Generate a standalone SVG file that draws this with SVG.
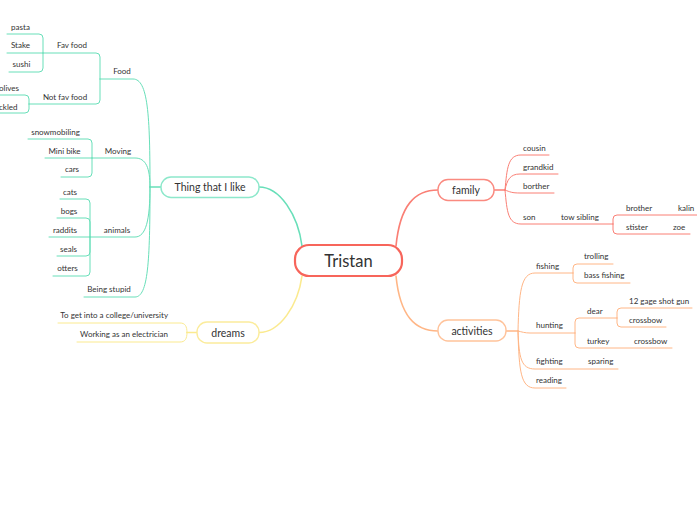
<svg xmlns="http://www.w3.org/2000/svg" width="697" height="520" viewBox="0 0 697 520">
<style>
text{font-family:Lato,"Liberation Sans",sans-serif;fill:#333;}
.s{font-size:8px;}
.m{font-size:10.5px;text-anchor:middle;}
.c{text-anchor:middle;}
.e{text-anchor:end;}
.ln{fill:none;stroke-linecap:round;}
.g{stroke:#68DFB9;}
.r{stroke:#FA7F75;}
.o{stroke:#FFB686;}
.y{stroke:#FBEA8F;}
.t1{stroke-width:1;}
.t2{stroke-width:1.6;}
</style>
<rect width="697" height="520" fill="#fff"/>
<g id="connectors">
  <!-- main -->
  <path class="ln g t2" d="M259,187 C280,187 298,215 302,246"/>
  <path class="ln r t2" d="M396,246 C400,205 415,190 438,190"/>
  <path class="ln o t2" d="M396,276 C400,316 415,331 438,331"/>
  <path class="ln y t2" d="M259,332.5 C280,332.5 298,305 302,276"/>
  <!-- Thing that I like trunk -->
  <path class="ln g t2" d="M150,187 L161,187"/>
  <path class="ln g t1" d="M150,187 C150,115 148,79 133,79 L100,79"/>
  <path class="ln g t1" d="M150,187 C150,168 146,158 135,158 L92,158"/>
  <path class="ln g t1" d="M150,187 C150,220 146,237 135,237 L90,237"/>
  <path class="ln g t1" d="M150,187 C150,262 148,297 135,297 L84,297"/>
  <!-- Food -->
  <path class="ln g t1" d="M100,79 L100,57 Q100,53 96,53 L43,53"/>
  <path class="ln g t1" d="M100,79 L100,100 Q100,104 96,104 L29,104"/>
  <path class="ln g t1" d="M43,53 L43,38 Q43,34 39,34 L7,34"/>
  <path class="ln g t1" d="M43,53 L7,53"/>
  <path class="ln g t1" d="M43,53 L43,68 Q43,72 39,72 L9,72"/>
  <path class="ln g t1" d="M29,104 L29,99 Q29,95 25,95 L-2,95"/>
  <path class="ln g t1" d="M29,104 L29,109 Q29,113 25,113 L-2,113"/>
  <!-- Moving -->
  <path class="ln g t1" d="M92,158 L92,143 Q92,139 88,139 L28,139"/>
  <path class="ln g t1" d="M92,158 L45,158"/>
  <path class="ln g t1" d="M92,158 L92,173 Q92,177 88,177 L61,177"/>
  <!-- animals -->
  <path class="ln g t1" d="M90,237 L90,203 Q90,199 86,199 L60,199"/>
  <path class="ln g t1" d="M90,237 L90,222 Q90,218 86,218 L57,218"/>
  <path class="ln g t1" d="M90,237 L49,237"/>
  <path class="ln g t1" d="M90,237 L90,252 Q90,256 86,256 L57,256"/>
  <path class="ln g t1" d="M90,237 L90,272 Q90,276 86,276 L53,276"/>
  <!-- family -->
  <path class="ln r t2" d="M494,190 L505,190"/>
  <path class="ln r t1" d="M505,190 C507,168 508,155 521,155 L549,155"/>
  <path class="ln r t1" d="M505,190 C507,180 510,174 520,174 L558,174"/>
  <path class="ln r t1" d="M505,190 C510,192 512,193 520,193 L554,193"/>
  <path class="ln r t1" d="M505,190 C507,212 508,224 521,224 L613,224"/>
  <path class="ln r t1" d="M613,224 L613,219 Q613,215 617,215 L699,215"/>
  <path class="ln r t1" d="M613,224 L613,230 Q613,234 617,234 L690,234"/>
  <!-- activities -->
  <path class="ln o t2" d="M506,331 L518,331"/>
  <path class="ln o t1" d="M518,331 C519,292 521,273 535,273 L573,273"/>
  <path class="ln o t1" d="M518,331 C522,332 525,333 530,333 L575,333"/>
  <path class="ln o t1" d="M518,331 C519,358 521,369 535,369 L618,369"/>
  <path class="ln o t1" d="M518,331 C519,372 521,388 535,388 L566,388"/>
  <path class="ln o t1" d="M573,273 L573,268 Q573,264 577,264 L613,264"/>
  <path class="ln o t1" d="M573,273 L573,279 Q573,283 577,283 L630,283"/>
  <path class="ln o t1" d="M575,333 L575,322 Q575,318 579,318 L617,318"/>
  <path class="ln o t1" d="M575,333 L575,344 Q575,348 579,348 L672,348"/>
  <path class="ln o t1" d="M617,318 L617,312 Q617,308 621,308 L692,308"/>
  <path class="ln o t1" d="M617,318 L617,323 Q617,327 621,327 L666,327"/>
  <!-- dreams -->
  <path class="ln y t2" d="M197,332.5 L187,332.5"/>
  <path class="ln y t1" d="M187,332.5 C187,326 185,323 180,323 L58,323"/>
  <path class="ln y t1" d="M187,332.5 C187,339 185,342 180,342 L77,342"/>
</g>
<g id="tristan">
  <rect x="295" y="245" width="107" height="31" rx="14" fill="#fff" stroke="#F7655B" stroke-width="2.2"/>
  <text x="348.5" y="267" class="c" style="font-size:16.5px">Tristan</text>
</g>
<g id="thing">
  <rect x="161" y="177" width="98" height="20.5" rx="10" fill="#fff" stroke="#8DE8CB" stroke-width="1.4"/>
  <text x="210" y="191" class="m">Thing that I like</text>
</g>
<g id="family">
  <rect x="438" y="179.5" width="56" height="21" rx="10" fill="#fff" stroke="#FA8A80" stroke-width="1.4"/>
  <text x="466" y="194" class="m">family</text>
</g>
<g id="activities">
  <rect x="438" y="320" width="68" height="21" rx="10" fill="#fff" stroke="#FFC39B" stroke-width="1.4"/>
  <text x="472" y="334.5" class="m">activities</text>
</g>
<g id="dreams">
  <rect x="197" y="322" width="62" height="21" rx="10" fill="#fff" stroke="#FBEC9C" stroke-width="1.4"/>
  <text x="228" y="336.5" class="m">dreams</text>
</g>
<g id="food-branch" class="s">
  <text x="122" y="74" class="s c">Food</text>
  <text x="72" y="48" class="s c">Fav food</text>
  <text x="65" y="99.5" class="s c">Not fav food</text>
  <text x="20.5" y="29.5" class="s c">pasta</text>
  <text x="20.5" y="48" class="s c">Stake</text>
  <text x="21.5" y="67" class="s c">sushi</text>
  <text x="-1" y="90.5" class="s">olives</text>
  <text x="-1" y="109.5" class="s">ckled</text>
</g>
<g id="moving-branch">
  <text x="118" y="153.5" class="s c">Moving</text>
  <text x="55.5" y="134.5" class="s c">snowmobiling</text>
  <text x="64.5" y="153.5" class="s c">Mini bike</text>
  <text x="72" y="172" class="s c">cars</text>
</g>
<g id="animals-branch">
  <text x="117" y="233" class="s c">animals</text>
  <text x="70" y="195" class="s c">cats</text>
  <text x="69" y="214" class="s c">bogs</text>
  <text x="65" y="233" class="s c">raddits</text>
  <text x="68.5" y="252" class="s c">seals</text>
  <text x="67.5" y="271" class="s c">otters</text>
</g>
<g id="stupid-branch">
  <text x="109" y="292" class="s c">Being stupid</text>
</g>
<g id="family-branch">
  <text x="523" y="151" class="s">cousin</text>
  <text x="523" y="170" class="s">grandkid</text>
  <text x="523" y="189" class="s">borther</text>
  <text x="523" y="219.5" class="s">son</text>
  <text x="561" y="219.5" class="s">tow sibling</text>
  <text x="626" y="210.5" class="s">brother</text>
  <text x="678" y="210.5" class="s">kalin</text>
  <text x="626" y="229.5" class="s">stister</text>
  <text x="673" y="229.5" class="s">zoe</text>
</g>
<g id="activities-branch">
  <text x="536" y="269" class="s">fishing</text>
  <text x="536" y="328" class="s">hunting</text>
  <text x="536" y="364" class="s">fighting</text>
  <text x="536" y="383" class="s">reading</text>
  <text x="584" y="259" class="s">trolling</text>
  <text x="584" y="278" class="s">bass fishing</text>
  <text x="587" y="313.5" class="s">dear</text>
  <text x="587" y="343.5" class="s">turkey</text>
  <text x="634" y="343.5" class="s">crossbow</text>
  <text x="629" y="303.5" class="s">12 gage shot gun</text>
  <text x="629" y="323" class="s">crossbow</text>
  <text x="588" y="364" class="s">sparing</text>
</g>
<g id="dreams-branch">
  <text x="168" y="318" class="s e">To get into a college/university</text>
  <text x="168" y="337" class="s e">Working as an electrician</text>
</g>
</svg>
